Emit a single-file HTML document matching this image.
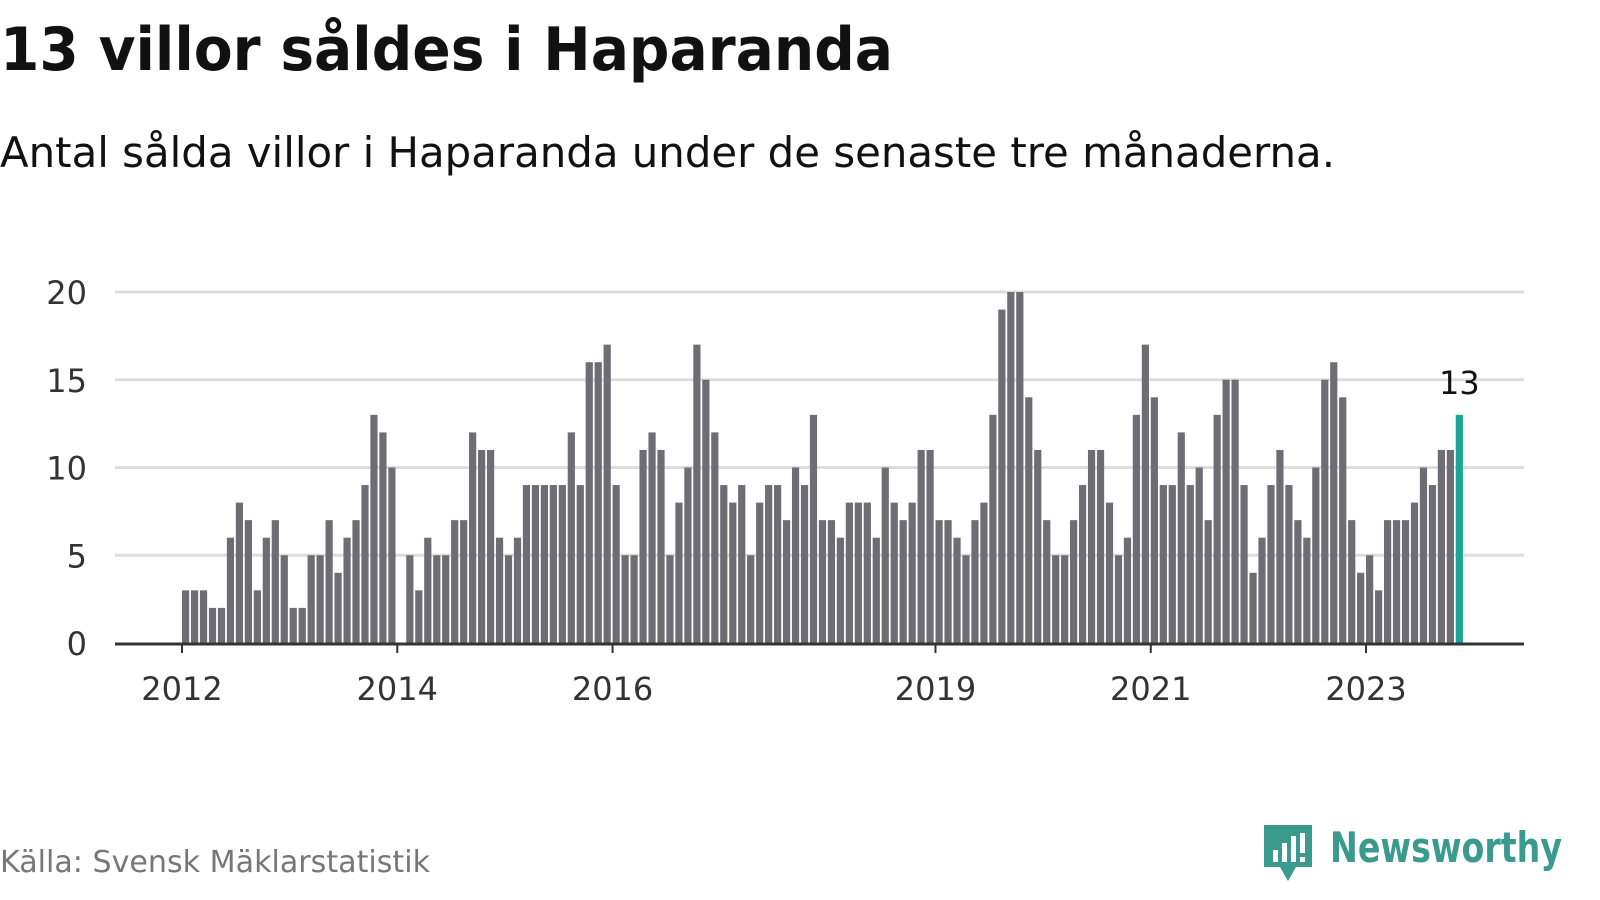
<!DOCTYPE html>
<html><head><meta charset="utf-8"><style>
body{margin:0;width:1600px;height:900px;background:#fff;font-family:"DejaVu Sans","Liberation Sans",sans-serif;overflow:hidden;position:relative}
</style></head><body>
<svg width="1600" height="900" style="position:absolute;left:0;top:0">
<text x="0" y="70" font-size="60" font-weight="bold" fill="#111" textLength="893" lengthAdjust="spacingAndGlyphs">13 villor såldes i Haparanda</text>
<text x="0" y="167" font-size="42" fill="#111" textLength="1335" lengthAdjust="spacingAndGlyphs">Antal sålda villor i Haparanda under de senaste tre månaderna.</text>
<text x="0" y="872" font-size="30" fill="#777" textLength="430" lengthAdjust="spacingAndGlyphs">Källa: Svensk Mäklarstatistik</text>
<g>
<path d="M1264 825h48v42h-16l-8 14-8-14h-16z" fill="#3a9a8e"/>
<rect x="1273" y="850" width="5" height="12" fill="#fff"/><rect x="1282" y="843" width="5" height="19" fill="#fff"/><rect x="1291" y="836" width="5" height="26" fill="#fff"/><rect x="1300" y="833" width="5" height="20" fill="#fff"/><rect x="1300" y="857" width="5" height="5" fill="#fff"/>
<text x="1330" y="862" font-size="42" font-weight="bold" fill="#3a9a8e" textLength="232" lengthAdjust="spacingAndGlyphs">Newsworthy</text>
</g>
</svg>
<svg id="c" width="1600" height="900" style="position:absolute;left:0;top:0"></svg>
<script>
const values=[3,3,3,2,2,6,8,7,3,6,7,5,
2,2,5,5,7,4,6,7,9,13,12,10,
0,5,3,6,5,5,7,7,12,11,11,6,
5,6,9,9,9,9,9,12,9,16,16,17,
9,5,5,11,12,11,5,8,10,17,15,12,
9,8,9,5,8,9,9,7,10,9,13,7,
7,6,8,8,8,6,10,8,7,8,11,11,
7,7,6,5,7,8,13,19,20,20,14,11,
7,5,5,7,9,11,11,8,5,6,13,17,
14,9,9,12,9,10,7,13,15,15,9,4,
6,9,11,9,7,6,10,15,16,14,7,4,
5,3,7,7,7,8,10,9,11,11,13];
const startYear=2012;
const yTicks=[0,5,10,15,20];
const xTickYears=[2012,2014,2016,2019,2021,2023];
const NS="http://www.w3.org/2000/svg",svg=document.getElementById('c');
const x0=182,step=8.97,bw=7.2,y0=643,ppu=17.55,left=115,right=1524;
const xs=i=>x0+i*step, ys=v=>y0-v*ppu;
function mk(t,a){const e=document.createElementNS(NS,t);for(const k in a)e.setAttribute(k,a[k]);svg.appendChild(e);return e;}
yTicks.forEach(v=>{
 if(v>0){const l=mk('line',{x1:left,x2:right,y1:ys(v),y2:ys(v),stroke:'#ddd','stroke-width':3});
 
 }
 const t=mk('text',{x:87,y:ys(v)+12,'text-anchor':'end','font-size':32,fill:'#333'});t.textContent=v;
 
 
});
values.forEach((v,i)=>{
 const last=i===values.length-1;
 const r=mk('rect',{x:xs(i),y:ys(v),width:bw,height:v*ppu,fill:last?'#1aa59a':'#6e6d74'});
 
 
 if(last){const t=mk('text',{x:xs(i)+bw/2,y:ys(v)-21,'text-anchor':'middle','font-size':32,fill:'#111'});t.textContent=v;
 
 }
});
const ax=mk('line',{x1:left,x2:right,y1:y0+1,y2:y0+1,stroke:'#333','stroke-width':3});


xTickYears.forEach(yr=>{
 const x=xs((yr-startYear)*12);
 const tk=mk('line',{x1:x,x2:x,y1:y0,y2:y0+10,stroke:'#333','stroke-width':2});
 
 
 const t=mk('text',{x:x,y:700,'text-anchor':'middle','font-size':32,fill:'#333'});t.textContent=yr;
 
 
});
</script>
</body></html>
